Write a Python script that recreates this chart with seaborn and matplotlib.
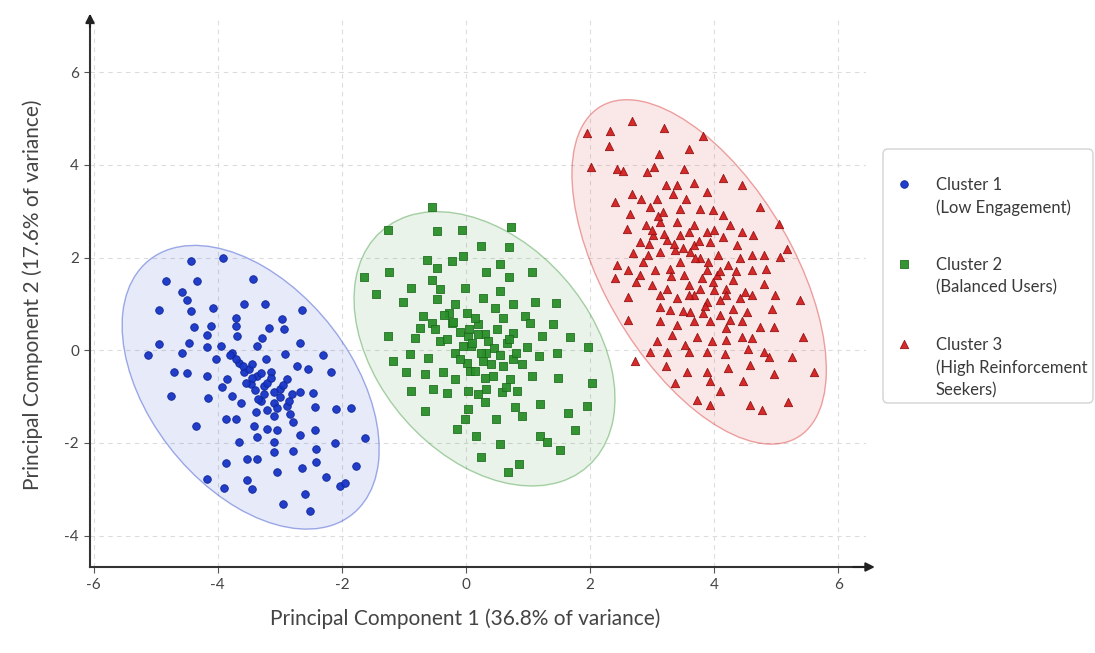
import matplotlib
matplotlib.use("Agg")
import matplotlib.pyplot as plt
import seaborn as sns
import pandas as pd
from matplotlib.patches import Ellipse, FancyBboxPatch
from matplotlib.transforms import IdentityTransform

# ---------------- data ----------------
cluster_labels = [
    "Cluster 1\n(Low Engagement)",
    "Cluster 2\n(Balanced Users)",
    "Cluster 3\n(High Reinforcement\nSeekers)",
]

cluster1_points = [
    (-4.43, 1.92), (-3.91, 1.99), (-4.83, 1.49), (-4.33, 1.49), (-3.43, 1.54), (-4.57, 1.25), (-4.49, 1.08),
    (-4.95, 0.86), (-4.43, 0.85), (-4.07, 0.91), (-3.58, 0.99), (-3.24, 0.99), (-2.65, 0.87), (-2.97, 0.67),
    (-2.94, 0.45), (-3.71, 0.70), (-3.70, 0.52), (-3.18, 0.49), (-4.39, 0.51), (-4.11, 0.52), (-4.18, 0.32),
    (-3.69, 0.31), (-3.29, 0.27), (-4.94, 0.13), (-4.46, 0.16), (-4.17, 0.08), (-3.95, 0.09), (-3.37, 0.09),
    (-2.67, 0.16), (-5.13, -0.11), (-4.57, -0.06), (-3.77, -0.05), (-4.03, -0.19), (-2.91, -0.09), (-2.31, -0.11),
    (-3.66, -0.27), (-3.23, -0.19), (-2.72, -0.34), (-2.54, -0.41), (-2.17, -0.47), (-4.70, -0.48), (-4.49, -0.49),
    (-4.17, -0.55), (-3.58, -0.48), (-3.37, -0.55), (-3.15, -0.48), (-2.89, -0.62), (-3.85, -0.62), (-3.93, -0.80),
    (-3.47, -0.73), (-3.26, -0.77), (-2.99, -0.84), (-2.67, -0.91), (-2.46, -0.92), (-4.75, -0.98), (-4.15, -1.04),
    (-3.77, -0.98), (-3.63, -1.13), (-3.31, -1.09), (-3.10, -1.13), (-2.89, -1.20), (-2.83, -1.38), (-2.43, -1.23),
    (-2.09, -1.27), (-1.85, -1.25), (-3.87, -1.48), (-3.71, -1.48), (-3.39, -1.34), (-3.10, -1.41), (-2.78, -1.56),
    (-4.35, -1.63), (-3.42, -1.63), (-3.21, -1.70), (-3.05, -1.73), (-2.43, -1.73), (-2.67, -1.84), (-3.66, -1.99),
    (-3.37, -1.88), (-3.10, -1.99), (-2.78, -2.17), (-2.41, -2.13), (-2.11, -2.00), (-1.62, -1.90), (-3.53, -2.34),
    (-3.37, -2.34), (-3.10, -2.19), (-2.41, -2.42), (-3.87, -2.43), (-2.64, -2.54), (-3.05, -2.63), (-2.25, -2.74),
    (-1.77, -2.50), (-4.18, -2.77), (-3.53, -2.81), (-3.45, -2.99), (-2.03, -2.93), (-1.95, -2.86), (-3.90, -2.97),
    (-2.59, -3.10), (-2.95, -3.32), (-2.51, -3.47),
    (-3.50, -0.40), (-3.45, -0.60), (-3.30, -0.50), (-3.20, -0.70), (-3.10, -0.90), (-3.00, -1.00), (-3.40, -0.85),
    (-3.55, -0.70), (-3.25, -0.95), (-2.95, -0.75), (-3.15, -0.60), (-3.35, -1.05), (-3.60, -0.35), (-2.85, -1.10),
    (-3.05, -1.25), (-3.70, -0.20), (-3.80, -0.10), (-2.80, -0.95), (-3.45, -0.30), (-3.20, -1.30),
]

cluster2_points = [
    (-0.55, 3.10), (-1.26, 2.59), (-0.47, 2.57), (-0.07, 2.60), (0.73, 2.67), (0.24, 2.26), (0.70, 2.23),
    (-0.04, 2.04), (-0.62, 1.94), (-0.23, 1.92), (-0.47, 1.78), (-1.24, 1.69), (-1.64, 1.59), (0.33, 1.69),
    (0.55, 1.87), (1.06, 1.69), (0.70, 1.58), (-0.55, 1.51), (-0.88, 1.35), (-0.42, 1.33), (-0.02, 1.35),
    (-1.45, 1.22), (0.55, 1.28), (-0.47, 1.10), (0.27, 1.13), (-1.01, 1.03), (-0.18, 0.99), (0.76, 0.99),
    (1.11, 1.03), (1.45, 1.01), (-0.69, 0.74), (-0.28, 0.81), (0.01, 0.81), (0.47, 0.92), (0.95, 0.74),
    (-0.55, 0.58), (-0.74, 0.49), (-0.23, 0.59), (0.20, 0.56), (0.60, 0.70), (1.03, 0.59), (1.40, 0.56),
    (-1.25, 0.31), (-0.82, 0.27), (-0.42, 0.20), (0.04, 0.31), (0.31, 0.34), (0.76, 0.38), (1.22, 0.31),
    (1.68, 0.29), (1.97, 0.08), (-0.18, -0.05), (0.09, 0.09), (0.33, -0.05), (0.66, 0.16), (0.98, 0.06),
    (1.18, -0.12), (1.47, -0.05), (-1.17, -0.23), (-0.90, -0.09), (-0.61, -0.16), (0.01, -0.27), (0.28, -0.23),
    (0.76, -0.19), (-0.96, -0.48), (-0.66, -0.52), (-0.37, -0.48), (-0.18, -0.62), (0.06, -0.44), (0.44, -0.55),
    (0.71, -0.62), (1.06, -0.55), (1.49, -0.59), (2.03, -0.70), (-0.88, -0.87), (-0.53, -0.84), (-0.31, -0.92),
    (0.04, -0.87), (0.33, -0.84), (0.58, -0.91), (0.82, -0.87), (1.19, -1.16), (0.31, -1.12), (0.04, -1.27),
    (0.79, -1.23), (0.90, -1.41), (1.65, -1.35), (1.96, -1.20), (-0.66, -1.32), (-0.02, -1.48), (0.49, -1.48),
    (-0.15, -1.70), (1.76, -1.72), (0.17, -1.85), (0.55, -2.02), (1.19, -1.85), (1.30, -1.99), (1.51, -2.16),
    (0.24, -2.31), (0.86, -2.45), (0.68, -2.63),
    (-0.10, 0.40), (0.05, 0.45), (0.20, 0.35), (0.35, 0.20), (0.45, 0.05), (0.55, -0.10), (0.10, 0.15),
    (-0.05, 0.10), (0.25, -0.05), (0.40, -0.30), (0.60, -0.35), (-0.20, 0.60), (-0.35, 0.75), (0.15, 0.70),
    (0.50, 0.45), (0.70, 0.25), (0.30, -0.60), (0.15, -0.45), (-0.30, 0.25), (-0.50, 0.45), (0.80, -0.05),
    (0.90, -0.30), (-0.10, -0.20), (0.65, -0.80), (0.20, -0.95),
]

cluster3_points = [
    (1.96, 4.69), (2.32, 4.74), (2.67, 4.95), (3.20, 4.79), (3.83, 4.63), (2.31, 4.40), (3.59, 4.34),
    (3.12, 4.24), (2.02, 3.95), (2.43, 3.91), (2.54, 3.86), (2.92, 3.84), (3.04, 3.95), (3.51, 3.91),
    (4.15, 3.71), (4.45, 3.56), (3.23, 3.56), (3.40, 3.56), (3.67, 3.61), (2.67, 3.38), (2.83, 3.27),
    (2.40, 3.20), (3.08, 3.27), (3.34, 3.38), (3.55, 3.27), (3.88, 3.41), (4.74, 3.09), (2.65, 2.95),
    (2.97, 3.09), (3.18, 2.98), (3.45, 3.05), (3.77, 3.05), (3.99, 3.02), (4.15, 2.91), (2.59, 2.62),
    (2.91, 2.70), (3.13, 2.77), (3.40, 2.77), (3.67, 2.70), (3.88, 2.55), (4.26, 2.70), (4.45, 2.55),
    (4.63, 2.48), (5.05, 2.73), (2.81, 2.34), (3.02, 2.48), (3.24, 2.37), (3.45, 2.48), (3.67, 2.27),
    (3.94, 2.34), (4.37, 2.27), (4.61, 2.05), (4.80, 2.05), (5.06, 2.01), (5.17, 2.19), (2.94, 2.05),
    (3.13, 2.12), (3.37, 2.16), (3.61, 2.12), (3.77, 1.98), (4.07, 2.05), (4.23, 1.84), (4.42, 1.98),
    (2.43, 1.84), (2.62, 1.73), (2.40, 1.55), (2.81, 1.62), (3.05, 1.73), (3.29, 1.76), (3.51, 1.62),
    (3.88, 1.73), (4.04, 1.62), (4.31, 1.51), (4.61, 1.73), (4.84, 1.76), (2.75, 1.48), (3.00, 1.41),
    (3.24, 1.33), (3.59, 1.41), (3.77, 1.33), (3.99, 1.48), (4.20, 1.33), (4.50, 1.26), (4.81, 1.44),
    (2.62, 1.15), (3.13, 1.19), (3.40, 1.12), (3.67, 1.19), (3.88, 1.05), (4.09, 1.08), (4.42, 1.12),
    (4.61, 1.19), (4.98, 1.20), (5.39, 1.08), (3.13, 0.94), (3.29, 0.87), (3.61, 0.83), (3.83, 0.80),
    (4.10, 0.76), (4.31, 0.90), (4.53, 0.83), (4.93, 0.90), (2.62, 0.65), (3.13, 0.62), (3.40, 0.54),
    (3.67, 0.62), (3.94, 0.62), (4.20, 0.47), (4.45, 0.62), (4.74, 0.51), (4.96, 0.51), (3.08, 0.19),
    (3.32, 0.33), (3.53, 0.11), (3.72, 0.29), (3.96, 0.19), (4.20, 0.22), (4.45, 0.29), (4.61, 0.26),
    (5.44, 0.29), (2.73, -0.24), (2.97, -0.04), (3.24, -0.04), (3.59, -0.04), (3.88, -0.04), (4.18, -0.08),
    (4.55, 0.02), (4.80, -0.04), (4.88, -0.15), (5.25, -0.15), (3.23, -0.35), (3.56, -0.46), (3.88, -0.46),
    (4.23, -0.39), (4.58, -0.32), (4.96, -0.52), (5.61, -0.46), (3.37, -0.71), (3.94, -0.67), (4.47, -0.67),
    (4.10, -0.89), (3.72, -1.07), (3.94, -1.18), (4.58, -1.18), (4.77, -1.30), (5.20, -1.12),
    (3.00, 2.60), (3.20, 2.50), (3.35, 2.30), (3.50, 2.20), (3.70, 2.00), (3.90, 1.90), (4.10, 1.70),
    (3.45, 1.90), (3.80, 1.55), (4.20, 1.20), (3.10, 2.90), (2.95, 2.30), (3.60, 2.55), (4.00, 2.60),
    (3.30, 1.60), (3.60, 1.20), (4.35, 1.70), (4.00, 1.30), (2.70, 2.10), (3.85, 0.95), (4.25, 0.65),
    (3.50, 0.85), (2.85, 1.90), (3.75, 2.35), (4.15, 2.45),
]

x_label = "Principal Component 1 (36.8% of variance)"
y_label = "Principal Component 2 (17.6% of variance)"
x_ticks = [-6, -4, -2, 0, 2, 4, 6]
y_ticks = [-4, -2, 0, 2, 4, 6]

# ---------------- style ----------------
marker_colors = ["#1634c8", "#2a8f2a", "#d61f1f"]
edge_colors = ["#0d2490", "#1d6b1d", "#8e1111"]
markers = ["o", "s", "^"]
marker_sizes = [30, 26, 36]
# ellipse geometry: center, width, height, angle (data units)
ellipses = [
    ((-3.47, -0.80), 6.51, 3.51, -66.3),
    ((0.30, 0.03), 6.24, 3.72, -66.9),
    ((3.76, 1.69), 7.87, 3.19, -69.0),
]

sns.set_theme(style="white")
plt.rcParams["font.family"] = ["Lato", "DejaVu Sans"]
plt.rcParams["axes.unicode_minus"] = False

frames = []
for lab, pts in zip(cluster_labels, [cluster1_points, cluster2_points, cluster3_points]):
    frames.append(pd.DataFrame({"pc1": [p[0] for p in pts], "pc2": [p[1] for p in pts], "cluster": lab}))
df = pd.concat(frames, ignore_index=True)

W, H = 1095, 653
fig = plt.figure(figsize=(W / 100, H / 100), dpi=100)
ax_left, ax_right, ax_top, ax_bottom = 90, 866, 19, 567
ax = fig.add_axes([ax_left / W, 1 - ax_bottom / H, (ax_right - ax_left) / W, (ax_bottom - ax_top) / H])

ax.set_xlim(-6.06, 6.45)
ax.set_ylim(-4.68, 7.15)

for i, lab in enumerate(cluster_labels):
    (cx, cy), w, h, ang = ellipses[i]
    ax.add_patch(Ellipse((cx, cy), w, h, angle=ang, facecolor=marker_colors[i], alpha=0.10,
                         edgecolor="none", zorder=1))
    ax.add_patch(Ellipse((cx, cy), w, h, angle=ang, facecolor="none", edgecolor=marker_colors[i],
                         alpha=0.4, linewidth=1.0, zorder=1.5))

for i, lab in enumerate(cluster_labels):
    sub = df[df["cluster"] == lab]
    sns.scatterplot(data=sub, x="pc1", y="pc2", ax=ax, marker=markers[i], s=marker_sizes[i],
                    color=marker_colors[i], edgecolor=edge_colors[i], linewidth=0.6,
                    alpha=0.95, label=lab, zorder=3, legend=False)

ax.set_xticks(x_ticks)
ax.set_yticks(y_ticks)
ax.grid(True, linestyle=(0, (4, 4)), color="#dcdcdc", linewidth=0.8, zorder=0)
ax.set_axisbelow(True)

for s in ["top", "right"]:
    ax.spines[s].set_visible(False)
for s in ["left", "bottom"]:
    ax.spines[s].set_color("#333333")
    ax.spines[s].set_linewidth(1.5)

ax.annotate("", xy=(1.015, 0), xytext=(0.98, 0), xycoords="axes fraction",
            arrowprops=dict(arrowstyle="-|>", color="#222222", lw=1.5, mutation_scale=13), annotation_clip=False)
ax.annotate("", xy=(0, 1.015), xytext=(0, 0.98), xycoords="axes fraction",
            arrowprops=dict(arrowstyle="-|>", color="#222222", lw=1.5, mutation_scale=13), annotation_clip=False)

ax.tick_params(axis="both", direction="out", length=4, width=0.8, color="#555555",
               labelsize=11, labelcolor="#444444", bottom=True, left=True, pad=4)

ax.set_xlabel(x_label, fontsize=15, color="#444444")
ax.set_ylabel(y_label, fontsize=15, color="#444444")
ax.xaxis.set_label_coords((465 - ax_left) / (ax_right - ax_left), -0.075)
ax.yaxis.set_label_coords((43 - ax_left) / (ax_right - ax_left), (ax_bottom - 295) / (ax_bottom - ax_top))

# legend frame drawn in pixel space, beneath the axes (it lies outside the axes area)
box_l, box_t, box_r, box_b = 883, 149, 1093, 403
frame = FancyBboxPatch((box_l, H - box_b), box_r - box_l, box_b - box_t,
                       boxstyle="round,pad=0,rounding_size=5", transform=IdentityTransform(),
                       facecolor="white", edgecolor="#cfcfcf", linewidth=0.9, zorder=-1)
fig.add_artist(frame)

leg_fs = 12
leg = ax.legend(loc="upper left", bbox_to_anchor=(896 / W, 1 - 177 / H), bbox_transform=fig.transFigure,
                borderaxespad=0, borderpad=0, frameon=False, fontsize=leg_fs,
                labelspacing=2.45, handletextpad=1.4, handlelength=1.0, labelcolor="#3a3a3a")
for t in leg.get_texts():
    t.set_linespacing(1.5)
for col in leg._legend_handle_box.get_children():
    for row in col.get_children():
        row.align = "top"

fig.savefig("out.png", dpi=100, facecolor="white")
